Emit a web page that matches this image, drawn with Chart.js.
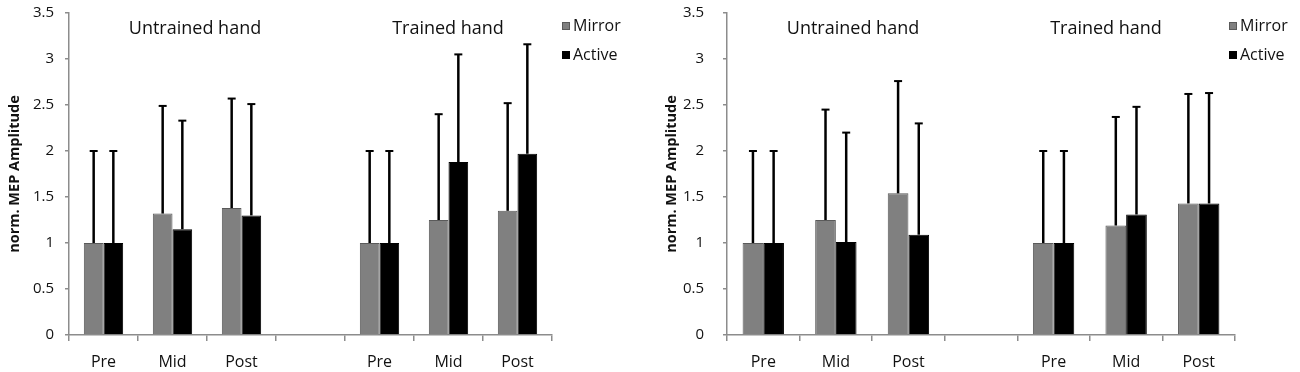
<!DOCTYPE html>
<html>
<head>
<meta charset="utf-8">
<script src="https://cdn.jsdelivr.net/npm/chart.js@4/dist/chart.umd.min.js"></script>
<style>
  html, body { margin: 0; padding: 0; background: #fff; }
  #wrap { position: relative; width: 1300px; height: 372px; overflow: hidden; }
  canvas { position: absolute; top: 0; }
</style>
</head>
<body>
<div id="wrap">
  <canvas id="c1" width="650" height="372" style="left:0px;width:650px;height:372px"></canvas>
  <canvas id="c2" width="650" height="372" style="left:650px;width:650px;height:372px"></canvas>
</div>
<script>
// ---- data ----
const categories = ['Pre', 'Mid', 'Post', '', 'Pre', 'Mid', 'Post'];
const seriesNames = ['Mirror', 'Active'];
const groupTitles = ['Untrained hand', 'Trained hand'];
const yAxisTitle = 'norm. MEP Amplitude';
const yMin = 0, yMax = 3.5, yStep = 0.5;

// left panel
const leftMirror     = [1.00, 1.32, 1.38, null, 1.00, 1.25, 1.35];
const leftMirrorSD   = [1.00, 1.17, 1.19, null, 1.00, 1.15, 1.17];
const leftActive     = [1.00, 1.15, 1.30, null, 1.00, 1.88, 1.97];
const leftActiveSD   = [1.00, 1.18, 1.21, null, 1.00, 1.17, 1.19];

// right panel
const rightMirror    = [1.00, 1.25, 1.54, null, 1.00, 1.19, 1.43];
const rightMirrorSD  = [1.00, 1.20, 1.22, null, 1.00, 1.18, 1.19];
const rightActive    = [1.00, 1.01, 1.09, null, 1.00, 1.31, 1.43];
const rightActiveSD  = [1.00, 1.19, 1.21, null, 1.00, 1.17, 1.20];

// ---- styles ----
const FONT = "'Open Sans', 'Liberation Sans', sans-serif";
const mirrorColor = '#808080', mirrorBorder = '#5a5a5a';
const activeColor = '#000000';
const axisColor = '#8c8c8c';
const textColor = '#111111';

const errorBarPlugin = {
  id: 'errorBars',
  afterDatasetsDraw(chart) {
    const ctx = chart.ctx;
    const ys = chart.scales.y;
    ctx.save();
    ctx.strokeStyle = '#000';
    chart.data.datasets.forEach((ds, i) => {
      const meta = chart.getDatasetMeta(i);
      meta.data.forEach((el, j) => {
        const v = ds.data[j], sd = ds.sd[j];
        if (v == null || sd == null) return;
        const yTop = ys.getPixelForValue(v + sd);
        ctx.lineWidth = 2.5;
        ctx.beginPath();
        ctx.moveTo(el.x, el.y);
        ctx.lineTo(el.x, yTop);
        ctx.stroke();
        ctx.lineWidth = 2;
        ctx.beginPath();
        ctx.moveTo(el.x - 4, yTop);
        ctx.lineTo(el.x + 4, yTop);
        ctx.stroke();
      });
    });
    ctx.restore();
  }
};

const annotationsPlugin = {
  id: 'annots',
  afterDraw(chart, args, opts) {
    const ctx = chart.ctx;
    const ca = chart.chartArea;
    ctx.save();
    ctx.fillStyle = textColor;
    ctx.font = `18px ${FONT}`;
    ctx.textAlign = 'center';
    ctx.textBaseline = 'middle';
    ctx.fillText(groupTitles[0], ca.left + opts.title1, 29);
    ctx.fillText(groupTitles[1], ca.left + opts.title2, 29);
    // legend
    ctx.textAlign = 'left';
    ctx.font = `16px ${FONT}`;
    const items = [[seriesNames[0], mirrorColor, mirrorBorder, 26], [seriesNames[1], activeColor, activeColor, 55]];
    items.forEach(([name, fill, border, yy]) => {
      ctx.fillStyle = fill;
      ctx.fillRect(opts.legendX, yy - 4, 8, 8);
      ctx.strokeStyle = border;
      ctx.lineWidth = 1;
      ctx.strokeRect(opts.legendX + 0.5, yy - 3.5, 7, 7);
      ctx.fillStyle = textColor;
      ctx.fillText(name, opts.legendX + 11, yy);
    });
    ctx.restore();
  }
};

function makeChart(id, mirror, mirrorSD, active, activeSD, layout) {
  return new Chart(document.getElementById(id), {
    type: 'bar',
    data: {
      labels: categories,
      datasets: [
        { label: seriesNames[0], data: mirror, sd: mirrorSD, backgroundColor: mirrorColor,
          borderColor: mirrorBorder, borderWidth: 1, categoryPercentage: 0.57, barPercentage: 1.0 },
        { label: seriesNames[1], data: active, sd: activeSD, backgroundColor: activeColor,
          borderColor: activeColor, borderWidth: 1, categoryPercentage: 0.57, barPercentage: 1.0 }
      ]
    },
    options: {
      responsive: false,
      animation: false,
      devicePixelRatio: 1,
      layout: { padding: { top: 13, right: layout.padRight, left: 0, bottom: 0 } },
      plugins: {
        legend: { display: false },
        tooltip: { enabled: false },
        annots: { title1: 126, title2: 379, legendX: layout.legendX }
      },
      scales: {
        x: {
          grid: { display: true, drawOnChartArea: false, drawTicks: true, tickLength: 6, offset: true, color: axisColor, lineWidth: 1.5 },
          border: { display: true, color: axisColor, width: 1.5 },
          ticks: { color: textColor, font: { family: FONT, size: 16 }, padding: 12, maxRotation: 0 },
          afterFit(s) { s.height = 37; s.paddingLeft = 0; s.paddingRight = 0; }
        },
        y: {
          min: yMin, max: yMax,
          grid: { display: true, drawOnChartArea: false, drawTicks: true, tickLength: 4, color: axisColor, lineWidth: 1.5 },
          border: { display: true, color: axisColor, width: 1.5 },
          ticks: { stepSize: yStep, color: textColor, font: { family: FONT, size: 15 }, padding: layout.tickPad,
                   callback: (v) => String(Number(v)) },
          title: { display: true, text: yAxisTitle, color: textColor, font: { family: FONT, size: 14.5, weight: 'bold' }, padding: { top: layout.titlePad, bottom: 0 } },
          afterFit(s) { s.width = layout.yWidth; s.paddingTop = 0; s.paddingBottom = 0; }
        }
      }
    },
    plugins: [errorBarPlugin, annotationsPlugin]
  });
}

makeChart('c1', leftMirror, leftMirrorSD, leftActive, leftActiveSD,
  { padRight: 98, yWidth: 69, tickPad: 11, titlePad: 6, legendX: 562 });
makeChart('c2', rightMirror, rightMirrorSD, rightActive, rightActiveSD,
  { padRight: 65, yWidth: 77, tickPad: 19, titlePad: 13, legendX: 579 });
</script>
</body>
</html>
